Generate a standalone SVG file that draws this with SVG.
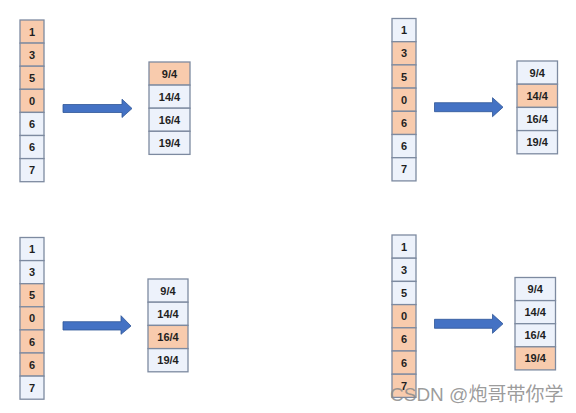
<svg xmlns="http://www.w3.org/2000/svg" width="576" height="413" viewBox="0 0 576 413">
<style>
.c{stroke:#7d8aa0;stroke-width:1.3}
.o{fill:#f8cbad}
.b{fill:#edf2fb}
.t{font-family:"Liberation Sans",Arial,sans-serif;font-size:11px;font-weight:bold;fill:#1f1f1f;text-anchor:middle;dominant-baseline:central}
.ar{fill:#4472c4;stroke:#2f5597;stroke-width:0.8}
.wm{font-family:"Liberation Sans","Noto Sans CJK SC",sans-serif;font-size:19px;fill:#8a8a8a;fill-opacity:0.85}
</style>
<rect width="576" height="413" fill="#ffffff"/>

<!-- Panel 1 -->
<g id="p1-left">
<g id="p1-l0"><rect class="c o" x="20" y="20" width="24" height="23.1"/><text class="t" x="32" y="31.6">1</text></g>
<g id="p1-l1"><rect class="c o" x="20" y="43.1" width="24" height="23.1"/><text class="t" x="32" y="54.7">3</text></g>
<g id="p1-l2"><rect class="c o" x="20" y="66.2" width="24" height="23.1"/><text class="t" x="32" y="77.8">5</text></g>
<g id="p1-l3"><rect class="c o" x="20" y="89.3" width="24" height="23.1"/><text class="t" x="32" y="100.9">0</text></g>
<g id="p1-l4"><rect class="c b" x="20" y="112.4" width="24" height="23.1"/><text class="t" x="32" y="124">6</text></g>
<g id="p1-l5"><rect class="c b" x="20" y="135.5" width="24" height="23.1"/><text class="t" x="32" y="147.1">6</text></g>
<g id="p1-l6"><rect class="c b" x="20" y="158.6" width="24" height="23.1"/><text class="t" x="32" y="170.2">7</text></g>
</g>
<g id="p1-right">
<g id="p1-r0"><rect class="c o" x="149" y="62" width="41" height="23.1"/><text class="t" x="169.5" y="73.6">9/4</text></g>
<g id="p1-r1"><rect class="c b" x="149" y="85.1" width="41" height="23.1"/><text class="t" x="169.5" y="96.7">14/4</text></g>
<g id="p1-r2"><rect class="c b" x="149" y="108.2" width="41" height="23.1"/><text class="t" x="169.5" y="119.8">16/4</text></g>
<g id="p1-r3"><rect class="c b" x="149" y="131.3" width="41" height="23.1"/><text class="t" x="169.5" y="142.9">19/4</text></g>
</g>

<!-- Panel 2 -->
<g id="p2-left">
<g id="p2-l0"><rect class="c b" x="392" y="18.5" width="24" height="23.2"/><text class="t" x="404" y="30.1">1</text></g>
<g id="p2-l1"><rect class="c o" x="392" y="41.7" width="24" height="23.2"/><text class="t" x="404" y="53.3">3</text></g>
<g id="p2-l2"><rect class="c o" x="392" y="64.9" width="24" height="23.2"/><text class="t" x="404" y="76.5">5</text></g>
<g id="p2-l3"><rect class="c o" x="392" y="88.1" width="24" height="23.2"/><text class="t" x="404" y="99.7">0</text></g>
<g id="p2-l4"><rect class="c o" x="392" y="111.3" width="24" height="23.2"/><text class="t" x="404" y="122.9">6</text></g>
<g id="p2-l5"><rect class="c b" x="392" y="134.5" width="24" height="23.2"/><text class="t" x="404" y="146.1">6</text></g>
<g id="p2-l6"><rect class="c b" x="392" y="157.7" width="24" height="23.2"/><text class="t" x="404" y="169.3">7</text></g>
</g>
<g id="p2-right">
<g id="p2-r0"><rect class="c b" x="517" y="61" width="40.5" height="23.2"/><text class="t" x="537.2" y="72.6">9/4</text></g>
<g id="p2-r1"><rect class="c o" x="517" y="84.2" width="40.5" height="23.2"/><text class="t" x="537.2" y="95.8">14/4</text></g>
<g id="p2-r2"><rect class="c b" x="517" y="107.4" width="40.5" height="23.2"/><text class="t" x="537.2" y="119">16/4</text></g>
<g id="p2-r3"><rect class="c b" x="517" y="130.6" width="40.5" height="23.2"/><text class="t" x="537.2" y="142.2">19/4</text></g>
</g>

<!-- Panel 3 -->
<g id="p3-left">
<g id="p3-l0"><rect class="c b" x="20" y="237.5" width="24" height="23.1"/><text class="t" x="32" y="249.1">1</text></g>
<g id="p3-l1"><rect class="c b" x="20" y="260.6" width="24" height="23.1"/><text class="t" x="32" y="272.2">3</text></g>
<g id="p3-l2"><rect class="c o" x="20" y="283.7" width="24" height="23.1"/><text class="t" x="32" y="295.3">5</text></g>
<g id="p3-l3"><rect class="c o" x="20" y="306.8" width="24" height="23.1"/><text class="t" x="32" y="318.4">0</text></g>
<g id="p3-l4"><rect class="c o" x="20" y="329.9" width="24" height="23.1"/><text class="t" x="32" y="341.5">6</text></g>
<g id="p3-l5"><rect class="c o" x="20" y="353" width="24" height="23.1"/><text class="t" x="32" y="364.6">6</text></g>
<g id="p3-l6"><rect class="c b" x="20" y="376.1" width="24" height="23.1"/><text class="t" x="32" y="387.7">7</text></g>
</g>
<g id="p3-right">
<g id="p3-r0"><rect class="c b" x="148" y="279" width="40" height="23.2"/><text class="t" x="168" y="290.6">9/4</text></g>
<g id="p3-r1"><rect class="c b" x="148" y="302.2" width="40" height="23.2"/><text class="t" x="168" y="313.8">14/4</text></g>
<g id="p3-r2"><rect class="c o" x="148" y="325.4" width="40" height="23.2"/><text class="t" x="168" y="337">16/4</text></g>
<g id="p3-r3"><rect class="c b" x="148" y="348.6" width="40" height="23.2"/><text class="t" x="168" y="360.2">19/4</text></g>
</g>

<!-- Panel 4 -->
<g id="p4-left">
<g id="p4-l0"><rect class="c b" x="392" y="235" width="24" height="23.2"/><text class="t" x="404" y="246.6">1</text></g>
<g id="p4-l1"><rect class="c b" x="392" y="258.2" width="24" height="23.2"/><text class="t" x="404" y="269.8">3</text></g>
<g id="p4-l2"><rect class="c b" x="392" y="281.4" width="24" height="23.2"/><text class="t" x="404" y="293">5</text></g>
<g id="p4-l3"><rect class="c o" x="392" y="304.6" width="24" height="23.2"/><text class="t" x="404" y="316.2">0</text></g>
<g id="p4-l4"><rect class="c o" x="392" y="327.8" width="24" height="23.2"/><text class="t" x="404" y="339.4">6</text></g>
<g id="p4-l5"><rect class="c o" x="392" y="351" width="24" height="23.2"/><text class="t" x="404" y="362.6">6</text></g>
<g id="p4-l6"><rect class="c o" x="392" y="374.2" width="24" height="23.2"/><text class="t" x="404" y="385.8">7</text></g>
</g>
<g id="p4-right">
<g id="p4-r0"><rect class="c b" x="515" y="277.5" width="40.5" height="23.1"/><text class="t" x="535.2" y="289.1">9/4</text></g>
<g id="p4-r1"><rect class="c b" x="515" y="300.6" width="40.5" height="23.1"/><text class="t" x="535.2" y="312.2">14/4</text></g>
<g id="p4-r2"><rect class="c b" x="515" y="323.7" width="40.5" height="23.1"/><text class="t" x="535.2" y="335.3">16/4</text></g>
<g id="p4-r3"><rect class="c o" x="515" y="346.8" width="40.5" height="23.1"/><text class="t" x="535.2" y="358.4">19/4</text></g>
</g>

<g id="connectors">
<polygon class="ar" points="63,104.5 122,104.5 122,99.2 132,108.5 122,117.5 122,112.5 63,112.5"/>
<polygon class="ar" points="434.5,102.7 492.5,102.7 492.5,97.7 503,107.2 492.5,116.7 492.5,111.7 434.5,111.7"/>
<polygon class="ar" points="63,321.7 121,321.7 121,315.7 131,326 121,334.3 121,330 63,330"/>
<polygon class="ar" points="434.5,319.3 492.5,319.3 492.5,314.3 503,323.8 492.5,333.3 492.5,328.3 434.5,328.3"/>
</g>

<text class="wm" x="390" y="401">CSDN @炮哥带你学</text>
</svg>
